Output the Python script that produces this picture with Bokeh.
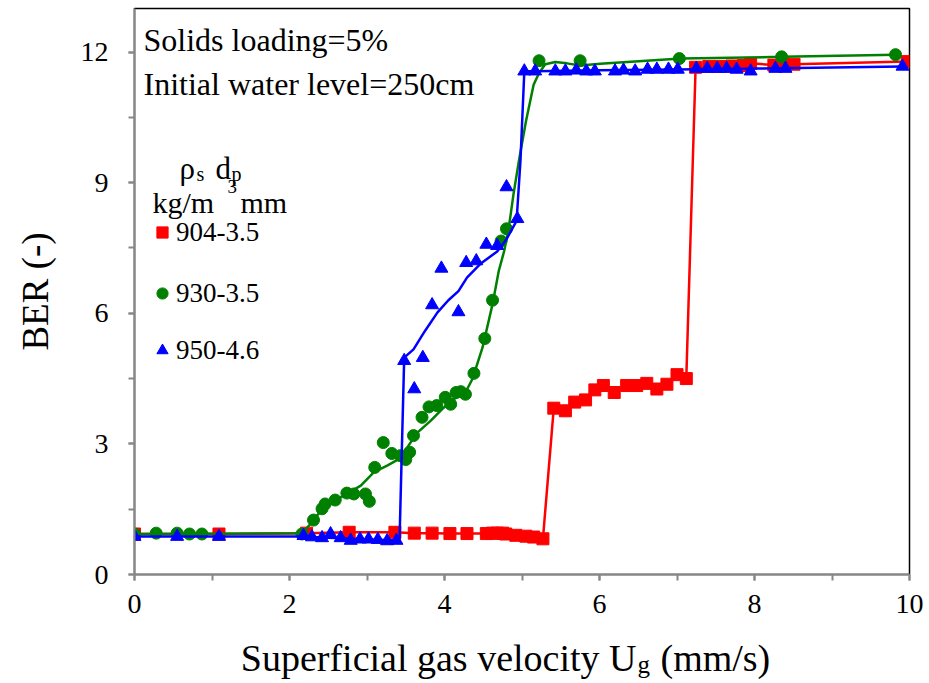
from bokeh.plotting import figure
from bokeh.layouts import column
from bokeh.models import Range1d, SingleIntervalTicker, Label, Legend, LegendItem
from bokeh.embed import file_html
from bokeh.resources import INLINE

# ---------------- data ----------------
# 904-3.5 (red squares)
red_x = [0.0, 1.09, 2.22, 2.77, 3.36, 3.61, 3.84, 4.07, 4.29, 4.54, 4.62, 4.68, 4.75, 4.79,
         4.92, 5.05, 5.15, 5.27, 5.41, 5.56, 5.68, 5.82, 5.94, 6.05, 6.19, 6.35, 6.48,
         6.61, 6.74, 6.87, 7.00, 7.12, 7.24, 7.41, 7.56, 7.71, 7.86, 7.95, 8.25, 8.38,
         8.51, 9.97]
red_y = [0.93, 0.93, 0.95, 0.97, 0.97, 0.95, 0.95, 0.94, 0.94, 0.94, 0.95, 0.95, 0.95, 0.93,
         0.90, 0.88, 0.86, 0.82, 3.82, 3.76, 3.96, 4.01, 4.24, 4.34, 4.18, 4.34, 4.34,
         4.39, 4.26, 4.37, 4.59, 4.50, 11.65, 11.67, 11.67, 11.68, 11.69, 11.74, 11.70, 11.71,
         11.72, 11.78]

# 930-3.5 (green circles)
green_x = [0.0, 0.28, 0.55, 0.71, 0.87, 2.16, 2.31, 2.42, 2.46, 2.59, 2.74, 2.83, 2.98,
           3.03, 3.10, 3.21, 3.32, 3.43, 3.50, 3.55, 3.60, 3.71, 3.80, 3.90, 4.01, 4.08,
           4.15, 4.21, 4.27, 4.38, 4.52, 4.62, 4.73, 4.80, 5.22, 5.75, 7.03, 8.35, 9.82]
green_y = [0.93, 0.95, 0.95, 0.93, 0.93, 0.93, 1.25, 1.51, 1.62, 1.71, 1.87, 1.85, 1.85,
           1.68, 2.46, 3.03, 2.78, 2.73, 2.64, 2.81, 3.19, 3.61, 3.85, 3.88, 4.07, 3.91,
           4.18, 4.20, 4.14, 4.62, 5.42, 6.30, 7.66, 7.94, 11.80, 11.80, 11.85, 11.89, 11.94]

# smoothed trend line drawn for 930-3.5
green_fit_x = [0.0, 2.16, 2.27, 2.44, 2.66, 2.92, 3.09, 3.26, 3.41, 3.52, 3.65, 3.82, 3.97,
               4.12, 4.27, 4.36, 4.49, 4.62, 4.70, 4.77, 4.83, 4.89, 4.96, 5.05, 5.15,
               5.22, 5.30, 5.43, 5.58, 5.75, 6.01, 7.05, 8.35, 9.82]
green_fit_y = [0.93, 0.95, 1.16, 1.54, 1.77, 2.04, 2.35, 2.50, 2.65, 2.92, 3.26, 3.53, 3.80,
               4.03, 4.18, 4.49, 5.21, 6.21, 6.97, 7.43, 7.97, 8.73, 9.50, 10.40, 11.25,
               11.52, 11.72, 11.77, 11.74, 11.69, 11.73, 11.85, 11.89, 11.94]

# 950-4.6 (blue triangles)
blue_x = [0.0, 0.55, 1.09, 2.18, 2.29, 2.42, 2.53, 2.66, 2.79, 2.91, 3.02, 3.14, 3.26, 3.38,
          3.48, 3.61, 3.72, 3.84, 3.96, 4.18, 4.28, 4.41, 4.54, 4.68, 4.80, 4.94, 5.03,
          5.17, 5.43, 5.56, 5.70, 5.83, 5.94, 6.20, 6.31, 6.46, 6.62, 6.74, 6.89, 7.01,
          7.25, 7.39, 7.52, 7.64, 7.77, 7.95, 8.27, 8.40, 9.91]
blue_y = [0.87, 0.87, 0.87, 0.89, 0.86, 0.84, 0.93, 0.84, 0.78, 0.81, 0.81, 0.80, 0.77, 0.78,
          4.91, 4.26, 4.98, 6.19, 7.03, 6.03, 7.16, 7.20, 7.58, 7.55, 8.90, 8.17, 11.56,
          11.56, 11.56, 11.56, 11.58, 11.56, 11.56, 11.56, 11.58, 11.56, 11.60, 11.60, 11.60,
          11.60, 11.62, 11.62, 11.62, 11.62, 11.60, 11.56, 11.62, 11.62, 11.67]

# smoothed trend line drawn for 950-4.6
blue_fit_x = [0.0, 2.18, 2.42, 2.66, 2.91, 3.14, 3.38, 3.42, 3.48, 3.60, 3.75, 3.91, 4.05,
              4.18, 4.29, 4.46, 4.68, 4.80, 4.93, 4.98, 5.03, 5.17, 6.00, 7.00, 8.00, 9.91]
blue_fit_y = [0.87, 0.87, 0.85, 0.83, 0.81, 0.80, 0.78, 0.80, 4.98, 5.17, 5.60, 6.02, 6.30,
              6.51, 6.82, 7.13, 7.42, 7.70, 8.12, 9.50, 11.56, 11.56, 11.58, 11.60, 11.62, 11.67]

series_labels = ["904-3.5", "930-3.5", "950-4.6"]
x_ticks_interval = 2
y_ticks_interval = 3

# ---------------- figure ----------------
FONT = "Liberation Serif"
W, H = 929, 683
H_MAIN = 630          # main plot; a thin text strip below holds the x-axis title
L, R, T, B = 134, 20, 8, 56
X0, X1, Y0, Y1 = 0, 10, 0, 13

p = figure(width=W, height=H_MAIN, x_range=Range1d(X0, X1), y_range=Range1d(Y0, Y1),
           output_backend="svg", toolbar_location=None, title=None,
           min_border_left=L, min_border_right=R, min_border_top=T, min_border_bottom=B)
p.background_fill_color = "white"
p.border_fill_color = "white"
p.outline_line_color = "#000000"
p.outline_line_width = 1.5
p.grid.visible = False

fw = W - L - R
fh = H_MAIN - T - B

p.xaxis.ticker = SingleIntervalTicker(interval=x_ticks_interval, num_minor_ticks=2)
p.yaxis.ticker = SingleIntervalTicker(interval=y_ticks_interval, num_minor_ticks=2)
for ax in (p.xaxis[0], p.yaxis[0]):
    ax.axis_line_color = "#878787"
    ax.axis_line_width = 2
    ax.major_tick_line_color = "#878787"
    ax.major_tick_line_width = 2
    ax.minor_tick_line_color = "#878787"
    ax.minor_tick_line_width = 2
    ax.major_tick_in = 0
    ax.major_tick_out = 6
    ax.minor_tick_in = 0
    ax.minor_tick_out = 6
    ax.major_label_text_font = FONT
    ax.major_label_text_font_size = "28px"
    ax.major_label_text_color = "black"

p.xaxis.major_label_standoff = 14
p.yaxis.major_label_standoff = 20
p.yaxis.axis_label = "BER (-)"
p.yaxis.axis_label_text_font = FONT
p.yaxis.axis_label_text_font_size = "37px"
p.yaxis.axis_label_text_font_style = "normal"
p.yaxis.axis_label_text_color = "black"
p.yaxis.axis_label_standoff = 22

# ---------------- series ----------------
p.line(red_x, red_y, line_color="#FF0000", line_width=2.5)
r_red = p.scatter(red_x, red_y, marker="square", size=12, fill_color="#FF0000", line_color="#FF0000")

p.line(green_fit_x, green_fit_y, line_color="#008000", line_width=2.5)
r_green = p.scatter(green_x, green_y, marker="circle", size=12, fill_color="#008000", line_color="#008000")

p.line(blue_fit_x, blue_fit_y, line_color="#0000FF", line_width=2.5)
r_blue = p.scatter(blue_x, blue_y, marker="triangle", size=13, fill_color="#0000FF", line_color="#0000FF")

# ---------------- legends (one per entry, to place them freely) ----------------
leg_centers = [232, 293, 350]
for lab, rend, cy in zip(series_labels, [r_red, r_green, r_blue], leg_centers):
    lg = Legend(items=[LegendItem(label=lab, renderers=[rend])],
                location=(148 - L, T + fh - (cy + 16)),
                glyph_width=28, glyph_height=28, label_height=32,
                label_standoff=0, padding=0, margin=0, spacing=0,
                label_text_font=FONT, label_text_font_size="27px",
                label_text_color="black", border_line_color=None,
                background_fill_alpha=0)
    p.add_layout(lg)


# ---------------- texts inside the plot ----------------
def add_text(txt, px, py, size, align="left"):
    # px, py: canvas pixel position (from top-left) of the text anchor
    p.add_layout(Label(x=px - L, y=T + fh - py, x_units="screen", y_units="screen",
                       text=txt, text_font=FONT,
                       text_font_size=f"{size}px", text_color="black",
                       text_align=align, text_baseline="alphabetic"))


add_text("Solids loading=5%", 143, 39, 32)
add_text("Initial water level=250cm", 143, 83, 32)

# legend header:  rho_s  d_p / kg/m^3 mm
add_text("\u03c1", 179, 168, 31)
add_text("s", 196, 173, 20)
add_text("d", 215, 168, 31)
add_text("p", 231, 173, 20)
add_text("kg/m", 152, 202, 30)
add_text("3", 227, 186, 19)
add_text("mm", 240, 202, 30)

# ---------------- x-axis title strip (with subscript) ----------------
H_STRIP = H - H_MAIN
p2 = figure(width=W, height=H_STRIP, x_range=Range1d(X0, X1), y_range=Range1d(H, H_MAIN),
            output_backend="svg", toolbar_location=None, title=None,
            x_axis_location=None, y_axis_location=None,
            min_border_left=L, min_border_right=R, min_border_top=0, min_border_bottom=0)
p2.outline_line_color = None
p2.grid.visible = False
p2.background_fill_color = "white"
p2.border_fill_color = "white"


def add_strip_text(txt, px, py, size, align="left"):
    p2.add_layout(Label(x=X0 + (px - L) / fw * (X1 - X0), y=py, text=txt, text_font=FONT,
                        text_font_size=f"{size}px", text_color="black",
                        text_align=align, text_baseline="alphabetic"))


add_strip_text("Superficial gas velocity U", 636, 657, 38, align="right")
add_strip_text("g", 637, 664, 25)
add_strip_text("(mm/s)", 660, 657, 38)

layout = column(p, p2, spacing=0)
open("out.html", "w").write(file_html(layout, INLINE))
